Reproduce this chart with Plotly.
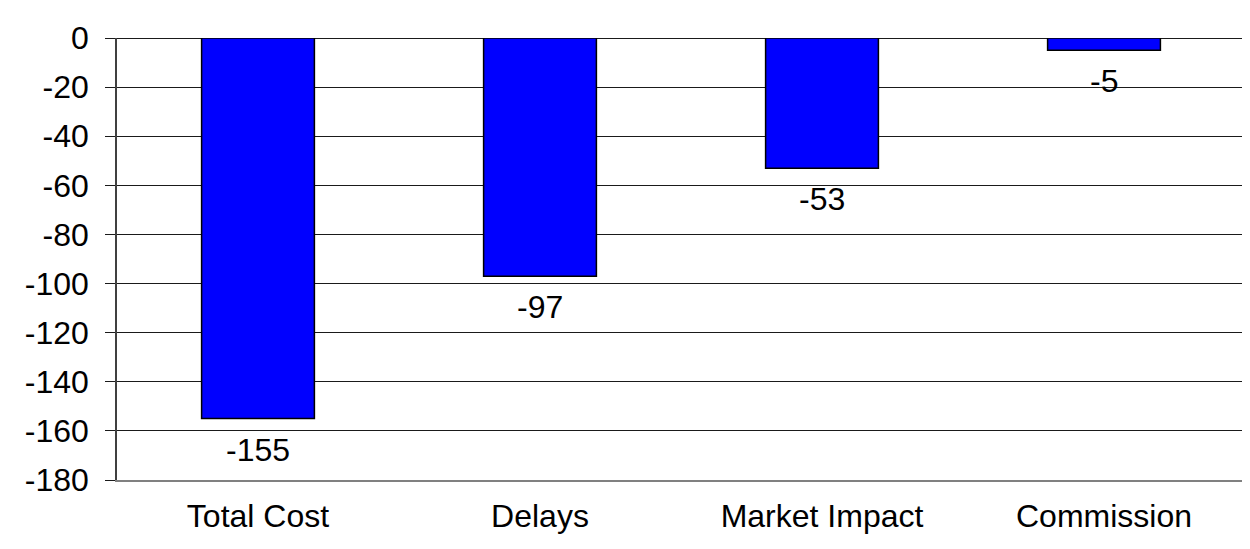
import plotly.graph_objects as go

categories = ["Total Cost", "Delays", "Market Impact", "Commission"]
values = [-155, -97, -53, -5]
y_ticks = [0, -20, -40, -60, -80, -100, -120, -140, -160, -180]

FONT = "Arial, Liberation Sans, sans-serif"
FS = 32

fig = go.Figure()
fig.add_trace(go.Bar(
    x=categories,
    y=values,
    marker=dict(color="#0000FF", line=dict(color="#000000", width=1.5)),
    width=0.4,
    hoverinfo="x+y",
))

for c, v in zip(categories, values):
    fig.add_annotation(
        x=c, y=v, text=str(v), showarrow=False,
        yanchor="middle", yshift=-31,
        font=dict(family=FONT, size=FS, color="#000000"),
    )

fig.update_layout(
    width=1242, height=541,
    margin=dict(l=109, r=5, t=30, b=69, autoexpand=False),
    paper_bgcolor="white", plot_bgcolor="white",
    showlegend=False,
    font=dict(family=FONT, size=FS, color="#000000"),
    xaxis=dict(
        showgrid=False, showline=True, linecolor="#808080", linewidth=2,
        ticks="", tickfont=dict(size=FS), ticklabelstandoff=7,
    ),
    yaxis=dict(
        range=[-180, 0], tickvals=y_ticks, ticktext=[str(t) for t in y_ticks],
        showgrid=True, gridcolor="#1a1a1a", gridwidth=1,
        zeroline=True, zerolinecolor="#1a1a1a", zerolinewidth=1,
        showline=True, linecolor="#404040", linewidth=1.5,
        ticks="outside", ticklen=10, tickcolor="#1a1a1a", tickwidth=1,
        tickfont=dict(size=FS), ticklabelstandoff=10,
    ),
)

fig.write_html("out.html")
